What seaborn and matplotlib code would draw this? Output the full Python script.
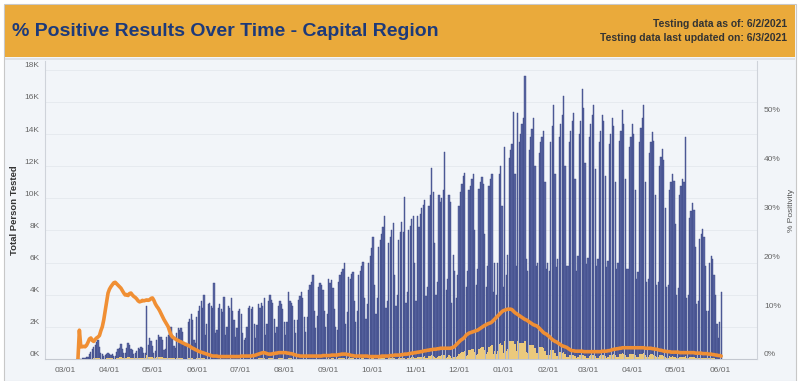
import numpy as np
import pandas as pd
import matplotlib
matplotlib.use("Agg")
import matplotlib.pyplot as plt
import matplotlib.dates as mdates
import matplotlib.transforms as mtransforms
from matplotlib.patches import Rectangle
from matplotlib.ticker import FuncFormatter
import seaborn as sns

# ---------------- data (daily, starting Monday 2020-03-09) ----------------
START_DATE = "2020-03-09"

# Total persons tested per day, in thousands (one row = one week, Mon..Sun)
tests_k = [
    0, 0, 0.02, 0.03, 0.05, 0.05, 0.06,
    0.1, 0.15, 0.3, 0.45, 0.6, 0.75, 0.9,
    1.05, 1.2, 0.75, 0.4, 0.3, 0.2, 0.25,
    0.3, 0.35, 0.3, 0.25, 0.3, 0.2, 0.2,
    0.45, 0.6, 0.7, 0.95, 0.65, 0.35, 0.4,
    0.7, 1.0, 0.85, 0.6, 0.55, 0.3, 0.35,
    0.5, 0.7, 0.65, 0.75, 0.7, 0.35, 0.4,
    3.3, 0.9, 1.3, 1.1, 0.8, 0.4, 0.5,
    1.2, 1.5, 1.4, 1.35, 1.2, 0.55, 0.6,
    1.35, 1.5, 1.6, 2.0, 1.5, 0.8, 0.7,
    1.6, 1.9, 1.8, 1.9, 1.7, 0.9, 0.8,
    1.0, 2.3, 2.5, 2.8, 2.4, 1.2, 1.0,
    2.6, 3.0, 3.3, 3.6, 3.2, 4.0, 1.5,
    2.2, 3.4, 3.5, 3.3, 3.2, 4.7, 1.6,
    1.8, 3.2, 3.4, 3.1, 2.9, 3.85, 1.5,
    2.0, 3.3, 3.2, 3.8, 3.0, 2.4, 1.4,
    1.9, 3.0, 3.1, 2.8, 1.6, 1.2, 1.3,
    2.0, 3.2, 3.3, 3.1, 3.25, 2.2, 1.3,
    2.1, 3.4, 3.2, 3.5, 3.3, 3.8, 1.5,
    2.2, 3.6, 4.0, 3.7, 3.5, 2.5, 1.6,
    2.0, 3.3, 3.6, 3.4, 3.1, 2.3, 1.5,
    2.3, 4.2, 3.6, 3.5, 3.3, 2.4, 1.6,
    2.4, 3.7, 3.9, 4.2, 3.8, 2.6, 1.7,
    2.6, 4.3, 4.6, 4.8, 5.2, 3.0, 1.9,
    2.7, 4.5, 4.7, 4.6, 4.3, 3.0, 2.0,
    2.8, 5.0, 4.7, 4.9, 4.4, 3.1, 2.0,
    1.8, 4.8, 5.2, 5.4, 5.6, 6.0, 2.2,
    2.9, 5.1, 5.0, 5.3, 5.4, 3.6, 2.3,
    3.0, 5.2, 5.5, 5.8, 6.05, 3.8, 2.5,
    3.4, 6.0, 6.4, 6.9, 7.6, 4.6, 2.8,
    3.8, 7.0, 7.4, 7.8, 8.2, 8.9, 3.2,
    3.6, 7.2, 7.6, 8.0, 8.45, 5.2, 3.3,
    4.0, 7.4, 7.9, 8.5, 7.9, 10.1, 3.5,
    4.2, 8.0, 8.3, 8.7, 8.9, 6.0, 3.6,
    8.9, 8.2, 9.0, 9.4, 9.6, 9.9, 3.9,
    4.5, 9.5, 10.2, 11.9, 10.4, 7.2, 4.0,
    4.8, 10.2, 9.8, 10.0, 10.5, 12.9, 4.3,
    5.0, 10.2, 9.8, 3.5, 6.5, 5.5, 3.8,
    5.2, 9.5, 10.4, 10.9, 11.4, 11.6, 4.5,
    5.5, 10.5, 10.8, 11.2, 11.5, 8.0, 4.6,
    5.6, 10.6, 11.0, 11.35, 10.9, 7.8, 4.5,
    5.8, 10.8, 11.2, 11.5, 4.2, 6.0, 4.0,
    6.0, 11.5, 12.0, 9.5, 4.5, 13.2, 5.2,
    6.5, 12.5, 13.0, 13.4, 15.4, 11.5, 5.8,
    15.3, 13.5, 14.0, 14.6, 15.0, 17.6, 6.2,
    5.5, 13.0, 13.8, 14.3, 15.0, 12.0, 5.8,
    6.0, 12.8, 13.5, 13.8, 14.2, 11.0, 5.6,
    6.0, 5.5, 13.5, 14.5, 15.8, 11.5, 5.7,
    6.2, 13.8, 14.6, 15.2, 16.4, 12.0, 5.8,
    5.8, 13.5, 14.2, 14.8, 15.3, 11.2, 5.5,
    6.4, 14.0, 14.8, 16.8, 15.6, 12.2, 5.9,
    6.3, 13.8, 14.6, 15.2, 15.8, 11.8, 5.8,
    6.2, 13.5, 14.2, 15.2, 14.8, 11.4, 5.7,
    6.1, 13.4, 14.0, 15.0, 14.5, 11.0, 5.6,
    6.0, 13.6, 14.2, 15.5, 14.6, 11.2, 5.6,
    5.6, 13.2, 13.8, 14.6, 14.0, 10.5, 5.0,
    5.4, 13.5, 14.4, 15.0, 15.8, 11.0, 4.8,
    5.0, 12.8, 13.5, 14.1, 13.6, 10.2, 4.6,
    4.8, 12.0, 12.6, 13.1, 12.4, 9.4, 4.5,
    4.6, 10.5, 11.0, 11.5, 11.1, 8.4, 4.0,
    4.4, 10.2, 10.8, 11.2, 11.0, 13.8, 3.8,
    4.0, 8.8, 9.2, 9.7, 9.3, 7.0, 3.4,
    3.6, 7.5, 7.8, 8.1, 7.6, 5.8, 3.0,
    3.0, 6.0, 6.4, 6.2, 5.2, 4.0, 2.2,
    1.3, 2.3, 4.2,
]

# Positive results per day, in thousands
positives_k = [
    0, 0, 0, 0, 0.01, 0.01, 0.01,
    0.01, 0.01, 0.02, 0.03, 0.03, 0.04, 0.05,
    0.06, 0.07, 0.05, 0.03, 0.03, 0.02, 0.03,
    0.04, 0.05, 0.05, 0.04, 0.05, 0.03, 0.03,
    0.07, 0.09, 0.1, 0.14, 0.09, 0.05, 0.05,
    0.09, 0.13, 0.11, 0.08, 0.07, 0.04, 0.04,
    0.06, 0.08, 0.08, 0.09, 0.08, 0.04, 0.05,
    0.26, 0.1, 0.15, 0.13, 0.1, 0.05, 0.06,
    0.13, 0.15, 0.13, 0.12, 0.1, 0.04, 0.05,
    0.09, 0.09, 0.08, 0.09, 0.07, 0.04, 0.03,
    0.06, 0.07, 0.06, 0.06, 0.05, 0.03, 0.03,
    0.03, 0.06, 0.06, 0.06, 0.05, 0.03, 0.02,
    0.05, 0.05, 0.05, 0.05, 0.04, 0.05, 0.02,
    0.02, 0.03, 0.03, 0.02, 0.02, 0.03, 0.01,
    0.01, 0.02, 0.02, 0.02, 0.02, 0.02, 0.01,
    0.01, 0.02, 0.02, 0.02, 0.02, 0.01, 0.01,
    0.01, 0.02, 0.02, 0.02, 0.01, 0.01, 0.01,
    0.01, 0.02, 0.02, 0.02, 0.02, 0.02, 0.01,
    0.02, 0.04, 0.04, 0.04, 0.04, 0.04, 0.02,
    0.02, 0.04, 0.04, 0.04, 0.04, 0.03, 0.02,
    0.02, 0.04, 0.05, 0.04, 0.04, 0.03, 0.02,
    0.03, 0.05, 0.04, 0.04, 0.03, 0.02, 0.01,
    0.02, 0.03, 0.03, 0.03, 0.03, 0.02, 0.01,
    0.02, 0.03, 0.03, 0.03, 0.03, 0.02, 0.01,
    0.02, 0.03, 0.03, 0.03, 0.03, 0.02, 0.01,
    0.02, 0.04, 0.03, 0.04, 0.04, 0.02, 0.02,
    0.02, 0.04, 0.05, 0.05, 0.06, 0.06, 0.02,
    0.02, 0.04, 0.04, 0.04, 0.04, 0.02, 0.02,
    0.02, 0.03, 0.03, 0.04, 0.04, 0.02, 0.02,
    0.02, 0.03, 0.03, 0.04, 0.04, 0.02, 0.01,
    0.02, 0.04, 0.04, 0.05, 0.05, 0.05, 0.02,
    0.02, 0.04, 0.05, 0.06, 0.06, 0.04, 0.03,
    0.03, 0.06, 0.07, 0.07, 0.07, 0.09, 0.03,
    0.04, 0.09, 0.09, 0.1, 0.11, 0.07, 0.04,
    0.13, 0.12, 0.14, 0.14, 0.15, 0.16, 0.06,
    0.08, 0.17, 0.19, 0.22, 0.2, 0.14, 0.08,
    0.1, 0.21, 0.21, 0.22, 0.23, 0.28, 0.09,
    0.11, 0.22, 0.21, 0.08, 0.15, 0.14, 0.1,
    0.16, 0.31, 0.38, 0.42, 0.46, 0.5, 0.2,
    0.28, 0.55, 0.58, 0.62, 0.64, 0.45, 0.26,
    0.33, 0.63, 0.68, 0.72, 0.72, 0.53, 0.31,
    0.41, 0.77, 0.82, 0.86, 0.33, 0.49, 0.34,
    0.5, 0.95, 1.0, 0.85, 0.4, 1.1, 0.5,
    0.6, 1.1, 1.12, 1.1, 1.15, 0.95, 0.5,
    1.15, 1.0, 1.0, 1.0, 1.0, 1.1, 0.45,
    0.4, 0.85, 0.88, 0.88, 0.88, 0.7, 0.35,
    0.37, 0.75, 0.75, 0.72, 0.7, 0.52, 0.26,
    0.27, 0.24, 0.55, 0.55, 0.58, 0.4, 0.19,
    0.2, 0.42, 0.42, 0.4, 0.42, 0.29, 0.13,
    0.12, 0.26, 0.25, 0.25, 0.26, 0.18, 0.09,
    0.1, 0.22, 0.23, 0.26, 0.23, 0.18, 0.09,
    0.09, 0.2, 0.22, 0.23, 0.23, 0.17, 0.09,
    0.09, 0.2, 0.22, 0.24, 0.23, 0.18, 0.09,
    0.1, 0.23, 0.25, 0.28, 0.29, 0.22, 0.12,
    0.12, 0.29, 0.31, 0.35, 0.34, 0.26, 0.13,
    0.14, 0.3, 0.32, 0.34, 0.32, 0.24, 0.12,
    0.14, 0.31, 0.33, 0.34, 0.36, 0.24, 0.12,
    0.13, 0.28, 0.3, 0.3, 0.28, 0.2, 0.1,
    0.11, 0.22, 0.23, 0.22, 0.2, 0.15, 0.07,
    0.08, 0.16, 0.15, 0.16, 0.15, 0.12, 0.06,
    0.07, 0.13, 0.14, 0.15, 0.14, 0.18, 0.06,
    0.06, 0.11, 0.12, 0.13, 0.12, 0.08, 0.05,
    0.05, 0.09, 0.09, 0.09, 0.08, 0.06, 0.04,
    0.04, 0.06, 0.06, 0.06, 0.05, 0.03, 0.02,
    0.01, 0.02, 0.03,
]

# % positivity (7-day), one value per day; None = not yet reported
positivity_pct = [
    None, 0.0, 5.9, 2.5, 2.5, 2.6, 2.5,
    2.8, 3.4, 4.1, 4.3, 3.8, 3.6, 4.0,
    4.3, 4.5, 4.8, 5.8, 6.6, 8.0, 9.8,
    11.5, 13.5, 14.3, 14.8, 15.2, 15.6, 15.7,
    15.4, 15.1, 14.8, 14.5, 14.0, 13.5, 13.1,
    13.2, 13.0, 13.4, 13.5, 13.1, 12.8, 12.6,
    12.3, 11.9, 11.7, 11.8, 12.0, 11.9, 12.0,
    12.1, 12.0, 12.1, 12.4, 12.5, 12.0, 11.3,
    10.8, 10.4, 9.9, 9.3, 8.7, 8.1, 7.6,
    7.1, 6.6, 5.7, 4.9, 4.5, 4.3, 4.1,
    3.9, 3.8, 3.6, 3.5, 3.3, 3.2, 3.0,
    2.9, 2.8, 2.6, 2.4, 2.2, 2.1, 1.9,
    1.8, 1.6, 1.5, 1.4, 1.3, 1.2, 1.1,
    1.0, 0.9, 0.8, 0.7, 0.6, 0.6, 0.6,
    0.6, 0.5, 0.5, 0.5, 0.5, 0.5, 0.5,
    0.5, 0.5, 0.5, 0.5, 0.5, 0.5, 0.5,
    0.5, 0.5, 0.5, 0.6, 0.6, 0.6, 0.6,
    0.6, 0.6, 0.6, 0.6, 0.7, 0.7, 0.8,
    0.9, 1.0, 1.1, 1.2, 1.3, 1.3, 1.2,
    1.1, 1.0, 1.0, 1.0, 1.1, 1.1, 1.2,
    1.2, 1.3, 1.3, 1.3, 1.3, 1.3, 1.3,
    1.2, 1.2, 1.1, 1.1, 1.0, 0.9, 0.8,
    0.7, 0.7, 0.6, 0.6, 0.6, 0.6, 0.6,
    0.6, 0.6, 0.6, 0.6, 0.6, 0.6, 0.6,
    0.6, 0.6, 0.6, 0.6, 0.7, 0.7, 0.7,
    0.7, 0.7, 0.7, 0.8, 0.8, 0.8, 0.8,
    0.8, 0.9, 0.9, 1.0, 1.0, 1.0, 1.0,
    0.9, 0.9, 0.8, 0.7, 0.7, 0.6, 0.6,
    0.6, 0.6, 0.6, 0.6, 0.6, 0.6, 0.6,
    0.6, 0.5, 0.5, 0.5, 0.5, 0.5, 0.5,
    0.5, 0.5, 0.5, 0.6, 0.6, 0.6, 0.6,
    0.6, 0.6, 0.7, 0.7, 0.7, 0.8, 0.8,
    0.8, 0.8, 0.8, 0.9, 0.9, 1.0, 1.0,
    1.0, 1.1, 1.1, 1.2, 1.2, 1.3, 1.3,
    1.4, 1.4, 1.5, 1.5, 1.6, 1.7, 1.7,
    1.8, 1.8, 1.9, 1.9, 2.0, 2.0, 2.0,
    2.1, 2.1, 2.2, 2.2, 2.2, 2.2, 2.2,
    2.2, 2.2, 2.2, 2.3, 2.4, 2.6, 2.9,
    3.2, 3.5, 3.8, 4.0, 4.2, 4.5, 4.9,
    5.1, 5.3, 5.4, 5.5, 5.6, 5.7, 5.8,
    5.9, 6.1, 6.3, 6.5, 6.7, 6.9, 7.0,
    7.2, 7.3, 7.4, 7.6, 7.9, 8.2, 8.5,
    8.8, 9.1, 9.4, 9.7, 9.9, 10.0, 10.1,
    10.2, 10.2, 10.2, 10.1, 9.8, 9.5, 9.3,
    9.1, 8.9, 8.7, 8.5, 8.3, 8.1, 8.0,
    7.8, 7.6, 7.4, 7.2, 7.0, 6.9, 6.8,
    6.6, 6.3, 6.0, 5.7, 5.4, 5.2, 5.1,
    4.8, 4.6, 4.3, 4.0, 3.8, 3.6, 3.5,
    3.3, 3.1, 2.9, 2.7, 2.6, 2.5, 2.4,
    2.2, 2.0, 1.8, 1.7, 1.7, 1.6, 1.6,
    1.6, 1.6, 1.6, 1.6, 1.5, 1.5, 1.5,
    1.5, 1.5, 1.5, 1.5, 1.5, 1.5, 1.5,
    1.5, 1.5, 1.5, 1.6, 1.6, 1.6, 1.6,
    1.7, 1.7, 1.8, 1.9, 2.0, 2.0, 2.1,
    2.1, 2.2, 2.2, 2.3, 2.3, 2.3, 2.3,
    2.3, 2.3, 2.3, 2.3, 2.3, 2.3, 2.3,
    2.3, 2.3, 2.3, 2.3, 2.3, 2.2, 2.2,
    2.2, 2.2, 2.2, 2.1, 2.1, 2.0, 2.0,
    1.9, 1.8, 1.8, 1.7, 1.6, 1.6, 1.5,
    1.5, 1.5, 1.4, 1.4, 1.4, 1.4, 1.4,
    1.4, 1.3, 1.3, 1.3, 1.3, 1.3, 1.3,
    1.3, 1.3, 1.3, 1.3, 1.3, 1.2, 1.2,
    1.2, 1.2, 1.2, 1.1, 1.1, 1.1, 1.1,
    1.0, 1.0, 1.0, 0.9, 0.9, 0.8, 0.8,
    0.7, 0.7, 0.6,
]

TITLE = "% Positive Results Over Time - Capital Region"
AS_OF = "Testing data as of: 6/2/2021"
UPDATED = "Testing data last updated on: 6/3/2021"
LEFT_LABEL = "Total Person Tested"
RIGHT_LABEL = "% Positivity"
LEFT_TICKS = [0, 2, 4, 6, 8, 10, 12, 14, 16, 18]
RIGHT_TICKS = [0, 10, 20, 30, 40, 50]
X_START, X_END = "2020-02-16", "2021-06-27"

# ---------------- build frame ----------------
dates = pd.date_range(START_DATE, periods=len(tests_k), freq="D")
df = pd.DataFrame({
    "date": dates,
    "tests": tests_k,
    "positives": positives_k,
    "pct": pd.to_numeric(pd.Series(positivity_pct, dtype="object"), errors="coerce"),
})
df["x"] = mdates.date2num(df["date"])

sns.set_style("white")
plt.rcParams["font.family"] = ["Liberation Sans", "DejaVu Sans"]

W, H = 800, 381
fig = plt.figure(figsize=(W / 100, H / 100), dpi=100, facecolor="white")

# card + header (behind the axes)
fig.patches.append(Rectangle((4 / W, 0 / H), 792 / W, 377 / H, transform=fig.transFigure,
                             facecolor="#f2f5f9", edgecolor="#c8c8c8", lw=0.8, zorder=-3))
fig.patches.append(Rectangle((5 / W, (H - 57) / H), 790 / W, 52 / H, transform=fig.transFigure,
                             facecolor="#eaaa3b", edgecolor="none", zorder=-2))
fig.patches.append(Rectangle((5 / W, (H - 60) / H), 790 / W, 2 / H, transform=fig.transFigure,
                             facecolor="#dfe2e7", edgecolor="none", zorder=-2))

fig.text(12 / W, (H - 32) / H, TITLE, ha="left", va="center", fontsize=14, fontweight="bold",
         color="#1d3a7a")
fig.text(787 / W, (H - 24) / H, AS_OF, ha="right", va="center", fontsize=7.5, fontweight="bold",
         color="#333333")
fig.text(787 / W, (H - 38) / H, UPDATED, ha="right", va="center", fontsize=7.5, fontweight="bold",
         color="#333333")

ax = fig.add_axes([45 / W, (H - 359) / H, 712 / W, 298 / H])
ax.set_facecolor("#f2f5f9")

sns.barplot(data=df, x="x", y="tests", native_scale=True, color="#5a66a2", edgecolor="#3a4584",
            linewidth=0.3, saturation=1, errorbar=None, width=0.86, ax=ax, zorder=2)
sns.barplot(data=df, x="x", y="positives", native_scale=True, color="#ebc97c", edgecolor="none",
            linewidth=0, saturation=1, errorbar=None, width=0.86, ax=ax, zorder=3)

ax2 = ax.twinx()
sns.lineplot(data=df.dropna(subset=["pct"]), x="x", y="pct", color="#f08f34", lw=2.6,
             estimator=None, errorbar=None, ax=ax2, zorder=4)

xmin = mdates.date2num(pd.Timestamp(X_START))
xmax = mdates.date2num(pd.Timestamp(X_END))
ax.set_xlim(xmin, xmax)
ax.set_ylim(0, 18.55)
ax2.set_ylim(0, 61.0)

ax.xaxis.set_major_locator(mdates.MonthLocator())
ax.xaxis.set_major_formatter(mdates.DateFormatter("%m/%d"))
ax.set_yticks(LEFT_TICKS)
ax.yaxis.set_major_formatter(FuncFormatter(lambda v, p: f"{v:.0f}K"))
ax2.set_yticks(RIGHT_TICKS)
ax2.yaxis.set_major_formatter(FuncFormatter(lambda v, p: f"{v:.0f}%"))

tick_col = "#666666"
ax.tick_params(axis="x", length=0, pad=6, labelsize=6, labelcolor=tick_col)
ax.tick_params(axis="y", length=0, pad=4, labelsize=6, labelcolor=tick_col)
ax2.tick_params(axis="y", length=0, pad=5, labelsize=6, labelcolor=tick_col)

ax.yaxis.grid(True, color="#e4e8ee", lw=0.6)
ax.set_axisbelow(True)

ax.set_xlabel("")
ax.set_ylabel(LEFT_LABEL, fontsize=6.8, fontweight="bold", color="#333333", labelpad=4)
ax2.set_xlabel("")
ax2.set_ylabel(RIGHT_LABEL, fontsize=6, color="#555555", labelpad=5, rotation=90)

for a in (ax, ax2):
    for s in a.spines.values():
        s.set_visible(False)
ax.spines["left"].set_visible(True)
ax.spines["left"].set_color("#cfd3da")
ax.spines["bottom"].set_visible(True)
ax.spines["bottom"].set_color("#c4c8d0")
ax2.spines["right"].set_visible(True)
ax2.spines["right"].set_color("#cfd3da")

# y tick labels sit a few pixels above their gridlines, as in the reference
lift = mtransforms.ScaledTranslation(0, 5 / 100, fig.dpi_scale_trans)
for lab in ax.get_yticklabels() + ax2.get_yticklabels():
    lab.set_transform(lab.get_transform() + lift)

fig.savefig("out.png", dpi=100, facecolor="white")
